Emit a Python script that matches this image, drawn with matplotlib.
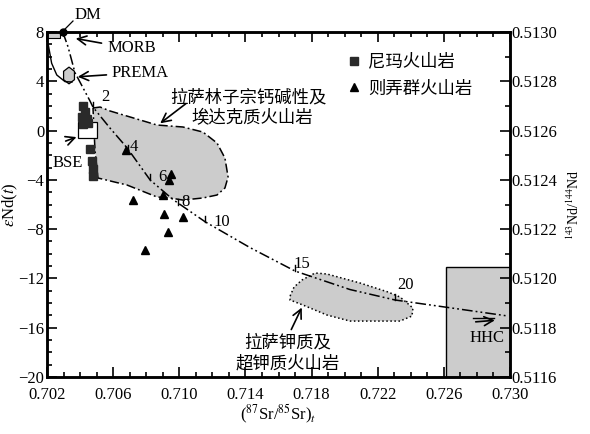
import numpy as np
import matplotlib.pyplot as plt
from matplotlib.patches import Polygon, Rectangle
from matplotlib.ticker import MultipleLocator

plt.rcParams['font.family'] = ['Liberation Serif', 'Noto Sans CJK SC']
plt.rcParams['mathtext.fontset'] = 'stix'
CJK = ['Noto Sans CJK SC', 'DejaVu Sans']

# 尼玛火山岩
nima_sr = [0.7042, 0.7043, 0.7041, 0.7044, 0.7042, 0.7045, 0.7046, 0.7047, 0.7048, 0.7048]
nima_nd = [2.0, 1.5, 1.1, 0.9, 0.5, 0.6, -1.5, -2.5, -3.1, -3.7]
# 则弄群火山岩
zn_sr = [0.7068, 0.7095, 0.7094, 0.7090, 0.7072, 0.7091, 0.7102, 0.7093, 0.7079]
zn_nd = [-1.6, -3.5, -4.0, -5.2, -5.6, -6.8, -7.0, -8.2, -9.7]

# mixing curve DM -> HHC
mix_sr = [0.70295, 0.70327, 0.70369, 0.70460, 0.70478, 0.70581, 0.70684, 0.70823,
          0.70962, 0.71156, 0.71428, 0.71700, 0.72032, 0.72305, 0.72595, 0.72988]
mix_nd = [8.0, 6.8, 4.7, 2.4, 1.9, 0.2, -1.4, -4.0, -5.6, -7.4, -9.5, -11.4,
          -12.9, -13.75, -14.3, -15.05]
mix_marks = ['2', '4', '6', '8', '10', '15', '20']
mark_sr = [0.70478, 0.7069, 0.70823, 0.70992, 0.71156, 0.71700, 0.72305]
mark_nd = [1.9, -1.6, -4.0, -6.0, -7.4, -11.4, -13.75]
mark_lab_sr = [0.70551, 0.70726, 0.70895, 0.71035, 0.71258, 0.71742, 0.72365]
mark_lab_nd = [2.72, -1.33, -3.77, -5.8, -7.42, -10.83, -12.54]

# 拉萨林子宗钙碱性及埃达克质火山岩
lz_sr = [0.70478, 0.70521, 0.70581, 0.70865, 0.71022, 0.71143, 0.71228, 0.71276, 0.71295,
         0.71276, 0.71228, 0.71143, 0.71022, 0.70944, 0.70865, 0.70684, 0.70508, 0.70490]
lz_nd = [1.83, 1.91, 1.59, 0.45, 0.29, -0.12, -1.01, -2.23, -3.77, -4.66, -5.23, -5.47,
         -5.64, -5.47, -5.39, -4.42, -3.85, -1.58]
# 拉萨钾质及超钾质火山岩
k_sr = [0.71670, 0.71694, 0.71742, 0.71821, 0.71893, 0.72093, 0.72262, 0.72335, 0.72413,
        0.72407, 0.72335, 0.72214, 0.72032, 0.71893, 0.71748, 0.71670]
k_nd = [-13.43, -12.70, -12.13, -11.56, -11.64, -12.37, -13.10, -13.51, -14.40, -15.05,
        -15.46, -15.46, -15.46, -14.97, -14.16, -13.75]

# MORB curve
morb_sr = [0.70208, 0.70228, 0.70259, 0.70309, 0.70351]
morb_nd = [6.94, 5.46, 4.51, 3.97, 3.94]

prema_c = (0.70333, 4.47)
dm = (0.70295, 8.0)

fig = plt.figure(figsize=(5.9, 4.34), dpi=100)
ax = fig.add_axes([0.0797, 0.1313, 0.7847, 0.795])

gray = '#cccccc'
ax.add_patch(Polygon(np.column_stack([lz_sr, lz_nd]), closed=True, facecolor=gray,
                     edgecolor='none', zorder=1))
ax.plot(lz_sr + lz_sr[:1], lz_nd + lz_nd[:1], color='k', lw=1.1,
        linestyle=(0, (6, 2, 1.2, 2)), zorder=2)
ax.add_patch(Polygon(np.column_stack([k_sr, k_nd]), closed=True, facecolor=gray,
                     edgecolor='k', lw=1.1, linestyle=':', zorder=1))

# HHC box
ax.add_patch(Rectangle((0.7261, -20), 0.0039, 8.95, facecolor=gray, edgecolor='k', lw=1.0, zorder=1))
# MORB box
ax.add_patch(Rectangle((0.702, 7.5), 0.0008, 0.5, facecolor=gray, edgecolor='k', lw=0.8, zorder=2))
# PREMA hexagon
ang = np.deg2rad(np.arange(0, 360, 60) + 30)
hexa = np.column_stack([prema_c[0] + 0.00038 * np.cos(ang), prema_c[1] + 0.68 * np.sin(ang)])
ax.add_patch(Polygon(hexa, closed=True, facecolor=gray, edgecolor='k', lw=0.9, zorder=2))
# BSE box
ax.add_patch(Rectangle((0.7039, -0.6), 0.0011, 1.3, facecolor='white', edgecolor='k', lw=0.9, zorder=2))

ax.plot(morb_sr, morb_nd, color='k', lw=1.0, zorder=2)
ax.plot(mix_sr, mix_nd, color='k', lw=1.1, linestyle=(0, (7, 2, 1.2, 2, 1.2, 2)), zorder=3)
for sx, sy in zip(mark_sr, mark_nd):
    ax.plot([sx, sx], [sy, sy + 0.45], color='k', lw=1.0, zorder=3)
for t, lx, ly in zip(mix_marks, mark_lab_sr, mark_lab_nd):
    ax.text(lx, ly, t, fontsize=12, ha='center', va='center', zorder=4)

ax.plot(nima_sr, nima_nd, 's', color='#2a2a2a', ms=6, ls='none', zorder=5, label='尼玛火山岩')
ax.plot(zn_sr, zn_nd, '^', color='k', ms=6, ls='none', zorder=5, label='则弄群火山岩')
ax.plot([dm[0]], [dm[1]], 'o', color='k', ms=5, clip_on=False, zorder=6)

arw = dict(arrowstyle='->', color='k', lw=1.2, mutation_scale=16)
ax.text(0.70448, 9.38, 'DM', fontsize=12, ha='center', va='center', clip_on=False)
ax.plot([0.70357, 0.70303], [8.89, 8.16], color='k', lw=0.9, clip_on=False)
ax.annotate('MORB', xy=(0.70357, 7.51), xytext=(0.70563, 6.66), fontsize=12,
            va='center', ha='left', arrowprops=arw)
ax.annotate('PREMA', xy=(0.70369, 4.35), xytext=(0.70593, 4.70), fontsize=12,
            va='center', ha='left', arrowprops=arw)
ax.annotate('', xy=(0.70394, -0.45), xytext=(0.70297, -0.93), arrowprops=arw)
ax.text(0.70327, -2.63, 'BSE', fontsize=12, ha='center', va='center')
ax.annotate('', xy=(0.70871, 0.45), xytext=(0.71053, 2.32), arrowprops=arw)
ax.text(0.71416, 2.72, '拉萨林子宗钙碱性及', family=CJK, fontsize=12.5, ha='center', va='center')
ax.text(0.71440, 1.02, '埃达克质火山岩', family=CJK, fontsize=12.5, ha='center', va='center')
ax.annotate('', xy=(0.71748, -14.16), xytext=(0.71670, -16.35), arrowprops=arw)
ax.text(0.71657, -17.16, '拉萨钾质及', family=CJK, fontsize=12.5, ha='center', va='center')
ax.text(0.71657, -18.87, '超钾质火山岩', family=CJK, fontsize=12.5, ha='center', va='center')
ax.text(0.72861, -16.84, 'HHC', fontsize=12, ha='center', va='center', zorder=4)
ax.plot([0.72776, 0.72905], [-15.21, -15.21], color='k', lw=1.0, zorder=4)
ax.annotate('', xy=(0.72925, -15.38), xytext=(0.72776, -15.54), arrowprops=arw, zorder=4)

ax.set_xlim(0.702, 0.730)
ax.set_ylim(-20, 8)
ax.xaxis.set_minor_locator(MultipleLocator(0.001))
ax.yaxis.set_major_locator(MultipleLocator(4))
ax.yaxis.set_minor_locator(MultipleLocator(1))
ax.set_xticks(np.arange(0.702, 0.7301, 0.004))
ax.set_xticklabels(['%.3f' % v for v in np.arange(0.702, 0.7301, 0.004)])
ax.tick_params(which='both', direction='in', top=True, right=False, labelsize=12, width=1.2)
ax.tick_params(which='major', length=7)
ax.tick_params(which='minor', length=3.5)
ax.tick_params(axis='x', pad=7)
ax.tick_params(axis='y', pad=2)
for s in ax.spines.values():
    s.set_linewidth(1.8)
ax.set_xlabel(r'($^{87}$Sr/$^{85}$Sr)$_t$', fontsize=12, labelpad=0)
ax.set_ylabel(r'$\varepsilon$Nd($t$)', fontsize=12)
ax.yaxis.set_label_coords(-0.058, 0.5)

ax2 = ax.twinx()
ax2.set_position(ax.get_position())
ax2.set_ylim(0.5116, 0.5130)
ax2.yaxis.set_minor_locator(MultipleLocator(0.0001))
ax2.set_yticks(np.arange(0.5116, 0.51301, 0.0002))
ax2.set_yticklabels(['%.4f' % v for v in np.arange(0.5116, 0.51301, 0.0002)])
ax2.tick_params(which='both', direction='in', labelsize=12, width=1.2, pad=1)
ax2.tick_params(which='major', length=7)
ax2.tick_params(which='minor', length=3.5)
for s in ax2.spines.values():
    s.set_linewidth(1.8)
ax2.set_ylabel(r'$^{143}$Nd/$^{144}$Nd', fontsize=10, rotation=90, labelpad=6)

ax.legend(loc='upper left', bbox_to_anchor=(0.63, 0.96), frameon=False,
          prop={'family': CJK, 'size': 12.5}, handletextpad=0.3, labelspacing=0.5,
          handlelength=1.0, borderaxespad=0)

fig.savefig('out.png', dpi=100)
